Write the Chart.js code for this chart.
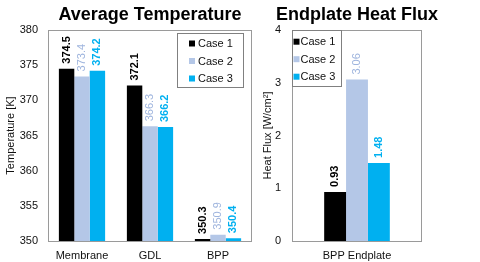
<!DOCTYPE html>
<html>
<head>
<meta charset="utf-8">
<script src="https://cdn.jsdelivr.net/npm/chart.js@4.4.0/dist/chart.umd.min.js"></script>
<style>
html,body{margin:0;padding:0;background:#fff;width:480px;height:262px;overflow:hidden;}
#c1{position:absolute;left:0;top:0;}
#c2{position:absolute;left:258px;top:0;}
</style>
</head>
<body>
<canvas id="c1" width="258" height="262"></canvas>
<canvas id="c2" width="198" height="262"></canvas>
<script>
// ---- data ----
const seriesNames = ["Case 1", "Case 2", "Case 3"];
const tempCategories = ["Membrane", "GDL", "BPP"];
const tempCase1 = [374.5, 372.1, 350.3];
const tempCase2 = [373.4, 366.3, 350.9];
const tempCase3 = [374.2, 366.2, 350.4];
const fluxCategories = ["BPP Endplate"];
const fluxCase1 = [0.93];
const fluxCase2 = [3.06];
const fluxCase3 = [1.48];

// ---- styles ----
const FONT = '"Liberation Sans", Arial, sans-serif';
const colors = ["#000000", "#B4C7E7", "#00B0F0"];
const labelColors = ["#000000", "#9FB5DE", "#00B0F0"];
const labelBold = [true, false, true];
Chart.defaults.font.family = FONT;
Chart.defaults.color = "#222";

const framePlugin = {
  id: 'frame',
  afterDatasetsDraw(chart) {
    const a = chart.chartArea, ctx = chart.ctx;
    ctx.save();
    ctx.strokeStyle = "#9A9A9A";
    ctx.lineWidth = 1;
    ctx.strokeRect(Math.round(a.left) + 0.5, Math.round(a.top) + 0.5,
      Math.round(a.right - a.left) - 1, Math.round(a.bottom - a.top));
    ctx.restore();
  }
};

const labelPlugin = {
  id: 'vlabels',
  afterDatasetsDraw(chart, args, opts) {
    const ctx = chart.ctx;
    chart.data.datasets.forEach((ds, i) => {
      const meta = chart.getDatasetMeta(i);
      meta.data.forEach((bar, j) => {
        ctx.save();
        ctx.translate(bar.x, bar.y - 5);
        ctx.rotate(-Math.PI / 2);
        ctx.font = (labelBold[i] ? 'bold ' : '') + '11px ' + FONT;
        ctx.fillStyle = labelColors[i];
        ctx.textAlign = 'left';
        ctx.textBaseline = 'middle';
        ctx.fillText(ds.data[j].toFixed(opts.decimals), 0, 0);
        ctx.restore();
      });
    });
  }
};

const boxLegendPlugin = {
  id: 'boxLegend',
  afterDraw(chart, args, o) {
    const ctx = chart.ctx;
    ctx.save();
    ctx.fillStyle = "#fff";
    ctx.fillRect(o.x, o.y, o.w, o.h);
    ctx.strokeStyle = "#808080";
    ctx.lineWidth = 1;
    ctx.strokeRect(o.x + 0.5, o.y + 0.5, o.w, o.h);
    ctx.font = '11px ' + FONT;
    ctx.textBaseline = 'middle';
    ctx.textAlign = 'left';
    seriesNames.forEach((n, i) => {
      const cy = o.y + o.first + i * o.step;
      ctx.fillStyle = colors[i];
      ctx.fillRect(o.x + o.sq, cy - 3, 6, 6);
      ctx.fillStyle = "#111";
      ctx.fillText(n, o.x + o.tx, cy + 0.5);
    });
    ctx.restore();
  }
};

function makeChart(id, cats, sets, cfg) {
  return new Chart(document.getElementById(id), {
    type: 'bar',
    data: {
      labels: cats,
      datasets: sets.map((d, i) => ({
        label: seriesNames[i], data: d, backgroundColor: colors[i],
        borderWidth: 0, categoryPercentage: cfg.catPct, barPercentage: 1
      }))
    },
    options: {
      responsive: false, animation: false, devicePixelRatio: 1,
      layout: { padding: { left: 0, right: cfg.padRight, top: 0, bottom: 0 } },
      plugins: {
        legend: { display: false },
        tooltip: { enabled: false },
        title: {
          display: true, text: cfg.title, fullSize: cfg.titleFull, color: '#000',
          font: { size: 18, weight: 'bold', family: FONT },
          padding: { top: 4, bottom: 4.4 }
        },
        vlabels: { decimals: cfg.decimals },
        boxLegend: cfg.legend
      },
      scales: {
        x: {
          grid: { display: false, drawTicks: false },
          border: { display: false },
          ticks: { padding: 8, color: '#111', font: { size: 11 } },
          afterFit(s) { s.height = 21; }
        },
        y: {
          min: cfg.min, max: cfg.max,
          grid: { display: false, drawTicks: false },
          border: { display: false },
          ticks: { stepSize: cfg.step, padding: cfg.tickPad, color: '#111', font: { size: 11 } },
          title: { display: true, text: cfg.yTitle, color: '#111', font: { size: 11 }, padding: { top: cfg.titlePad, bottom: 0 } },
          afterFit(s) { s.width = cfg.yWidth; }
        },
        yR: {
          position: 'right', min: 0, max: 1,
          display: cfg.rightWidth > 0,
          grid: { display: false, drawTicks: false },
          border: { display: false },
          ticks: { display: false },
          afterFit(s) { s.width = cfg.rightWidth; }
        }
      }
    },
    plugins: [framePlugin, labelPlugin, boxLegendPlugin]
  });
}

makeChart('c1', tempCategories, [tempCase1, tempCase2, tempCase3], {
  title: 'Average Temperature', yTitle: 'Temperature [K]', titleFull: false,
  min: 350, max: 380, step: 5, decimals: 1, catPct: 0.68,
  padRight: 6, rightWidth: 0, yWidth: 48, tickPad: 10, titlePad: 4.5,
  legend: { x: 177, y: 33, w: 66, h: 54, sq: 12, tx: 21, first: 10.5, step: 17.5 }
});
makeChart('c2', fluxCategories, [fluxCase1, fluxCase2, fluxCase3], {
  title: 'Endplate Heat Flux', yTitle: 'Heat Flux [W/cm²]', titleFull: true,
  min: 0, max: 4, step: 1, decimals: 2, catPct: 0.505,
  padRight: 0, rightWidth: 34, yWidth: 34, tickPad: 11, titlePad: 3.5,
  legend: { x: 34, y: 30, w: 49, h: 56, sq: 1.5, tx: 8.5, first: 11.7, step: 17.5 }
});
</script>
</body>
</html>
